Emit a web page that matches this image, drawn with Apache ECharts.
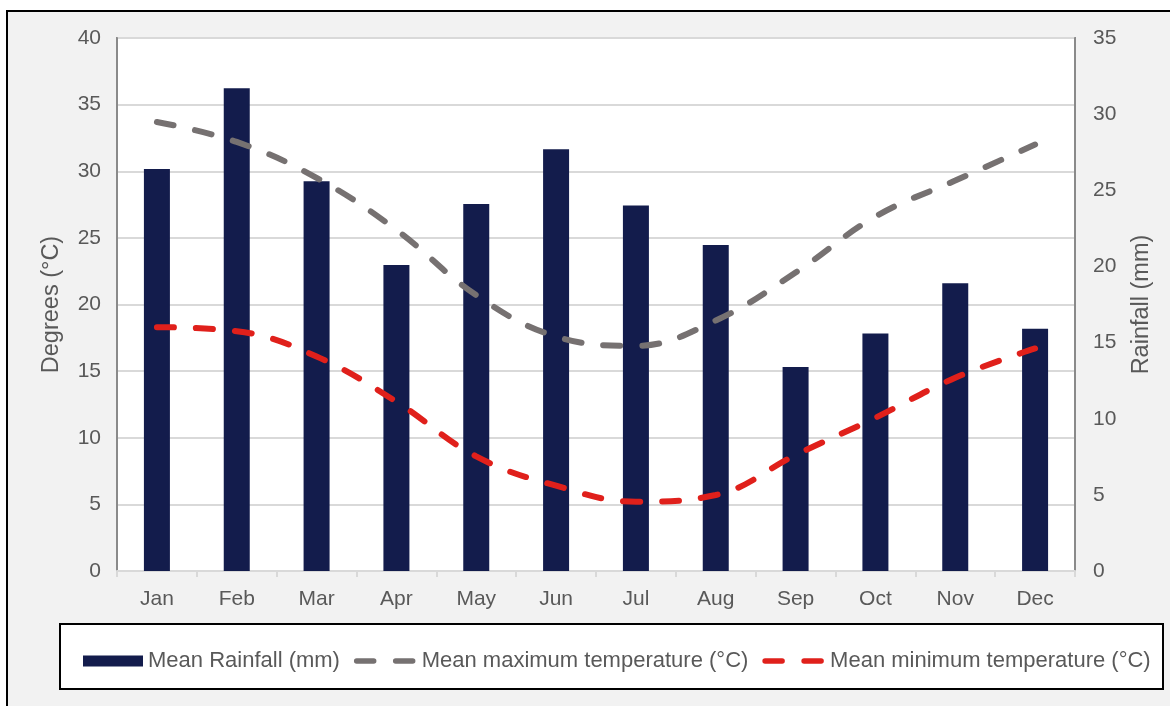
<!DOCTYPE html>
<html>
<head>
<meta charset="utf-8">
<title>Rainfall and temperature</title>
<script src="https://cdn.jsdelivr.net/npm/echarts@6/dist/echarts.min.js"></script>
<style>
  html, body { margin: 0; padding: 0; background: #fff; }
  #chart { width: 1170px; height: 706px; }
</style>
</head>
<body>
<div id="chart"></div>
<script>
// values
const months = ["Jan", "Feb", "Mar", "Apr", "May", "Jun", "Jul", "Aug", "Sep", "Oct", "Nov", "Dec"];
const rainfall = [26.4, 31.7, 25.6, 20.1, 24.1, 27.7, 24.0, 21.4, 13.4, 15.6, 18.9, 15.9];
const maxTemp = [33.7, 32.2, 29.5, 25.6, 20.7, 17.6, 16.9, 18.8, 22.4, 26.6, 29.3, 32.0];
const minTemp = [18.3, 18.0, 16.1, 12.7, 8.6, 6.4, 5.2, 5.7, 8.7, 11.5, 14.5, 16.7];

const txt = "#595959";
const font = "'Liberation Sans', Arial, sans-serif";
const dash = [17, 22];

const chart = echarts.init(document.getElementById("chart"));

chart.setOption({
  backgroundColor: "#fff",
  animation: false,
  textStyle: { fontFamily: font },
  graphic: {
    elements: [
      {
        type: "rect", z: -10,
        shape: { x: 7, y: 11, width: 1200, height: 720 },
        style: { fill: "#f2f2f2", stroke: "#000", lineWidth: 2 }
      },
      {
        type: "rect", z: -9,
        shape: { x: 60, y: 624, width: 1103, height: 65 },
        style: { fill: "#fff", stroke: "#000", lineWidth: 2 }
      }
    ]
  },
  grid: {
    left: 117, right: 95, top: 38, bottom: 135,
    show: true,
    backgroundColor: "#fff",
    borderColor: "#8a8a8a",
    borderWidth: 2
  },
  legend: {
    left: 78, top: 645,
    itemWidth: 60, itemHeight: 11, itemGap: 14,
    textStyle: { color: txt, fontSize: 22, fontFamily: font },
    data: [
      { name: "Mean Rainfall (mm)", icon: "rect" },
      // hide the little circle, keep the dashed line
      {
        name: "Mean maximum temperature (°C)",
        itemStyle: { opacity: 0 },
        lineStyle: { width: 5.5, type: dash, cap: "round" }
      },
      {
        name: "Mean minimum temperature (°C)",
        itemStyle: { opacity: 0 },
        lineStyle: { width: 5.5, type: dash, cap: "round" }
      }
    ]
  },
  xAxis: {
    type: "category",
    data: months,
    axisLine: { lineStyle: { color: "#d9d9d9", width: 2 } },
    axisTick: { show: true, length: 6, lineStyle: { color: "#d9d9d9", width: 2 } },
    axisLabel: { color: txt, fontSize: 21, margin: 18 }
  },
  yAxis: [
    {
      type: "value",
      min: 0, max: 40, interval: 5,
      name: "Degrees (°C)",
      nameLocation: "middle",
      nameGap: 53,
      nameTextStyle: { color: txt, fontSize: 23.5 },
      axisLine: { show: true, lineStyle: { color: "#8a8a8a", width: 2 } },
      axisTick: { show: false },
      axisLabel: { color: txt, fontSize: 21, margin: 16 },
      splitLine: { lineStyle: { color: "#d9d9d9", width: 2 } }
    },
    {
      type: "value",
      min: 0, max: 35, interval: 5,
      name: "Rainfall (mm)",
      nameLocation: "middle",
      nameGap: 55,
      nameTextStyle: { color: txt, fontSize: 23.5 },
      axisLine: { show: true, lineStyle: { color: "#8a8a8a", width: 2 } },
      axisTick: { show: false },
      axisLabel: { color: txt, fontSize: 21, margin: 18 },
      splitLine: { show: false }
    }
  ],
  series: [
    {
      name: "Mean Rainfall (mm)",
      type: "bar",
      yAxisIndex: 1,
      data: rainfall,
      barWidth: 26,
      itemStyle: { color: "#131c4c" }
    },
    {
      name: "Mean maximum temperature (°C)",
      type: "line",
      yAxisIndex: 0,
      data: maxTemp,
      smooth: 0.4,
      symbol: "none",
      itemStyle: { color: "#767171" },
      lineStyle: { color: "#767171", width: 6, type: dash, cap: "round" }
    },
    {
      name: "Mean minimum temperature (°C)",
      type: "line",
      yAxisIndex: 0,
      data: minTemp,
      smooth: 0.4,
      symbol: "none",
      itemStyle: { color: "#e0201b" },
      lineStyle: { color: "#e0201b", width: 6, type: dash, cap: "round" }
    }
  ]
});

window.addEventListener("resize", function () {
  chart.resize();
});
</script>
</body>
</html>
